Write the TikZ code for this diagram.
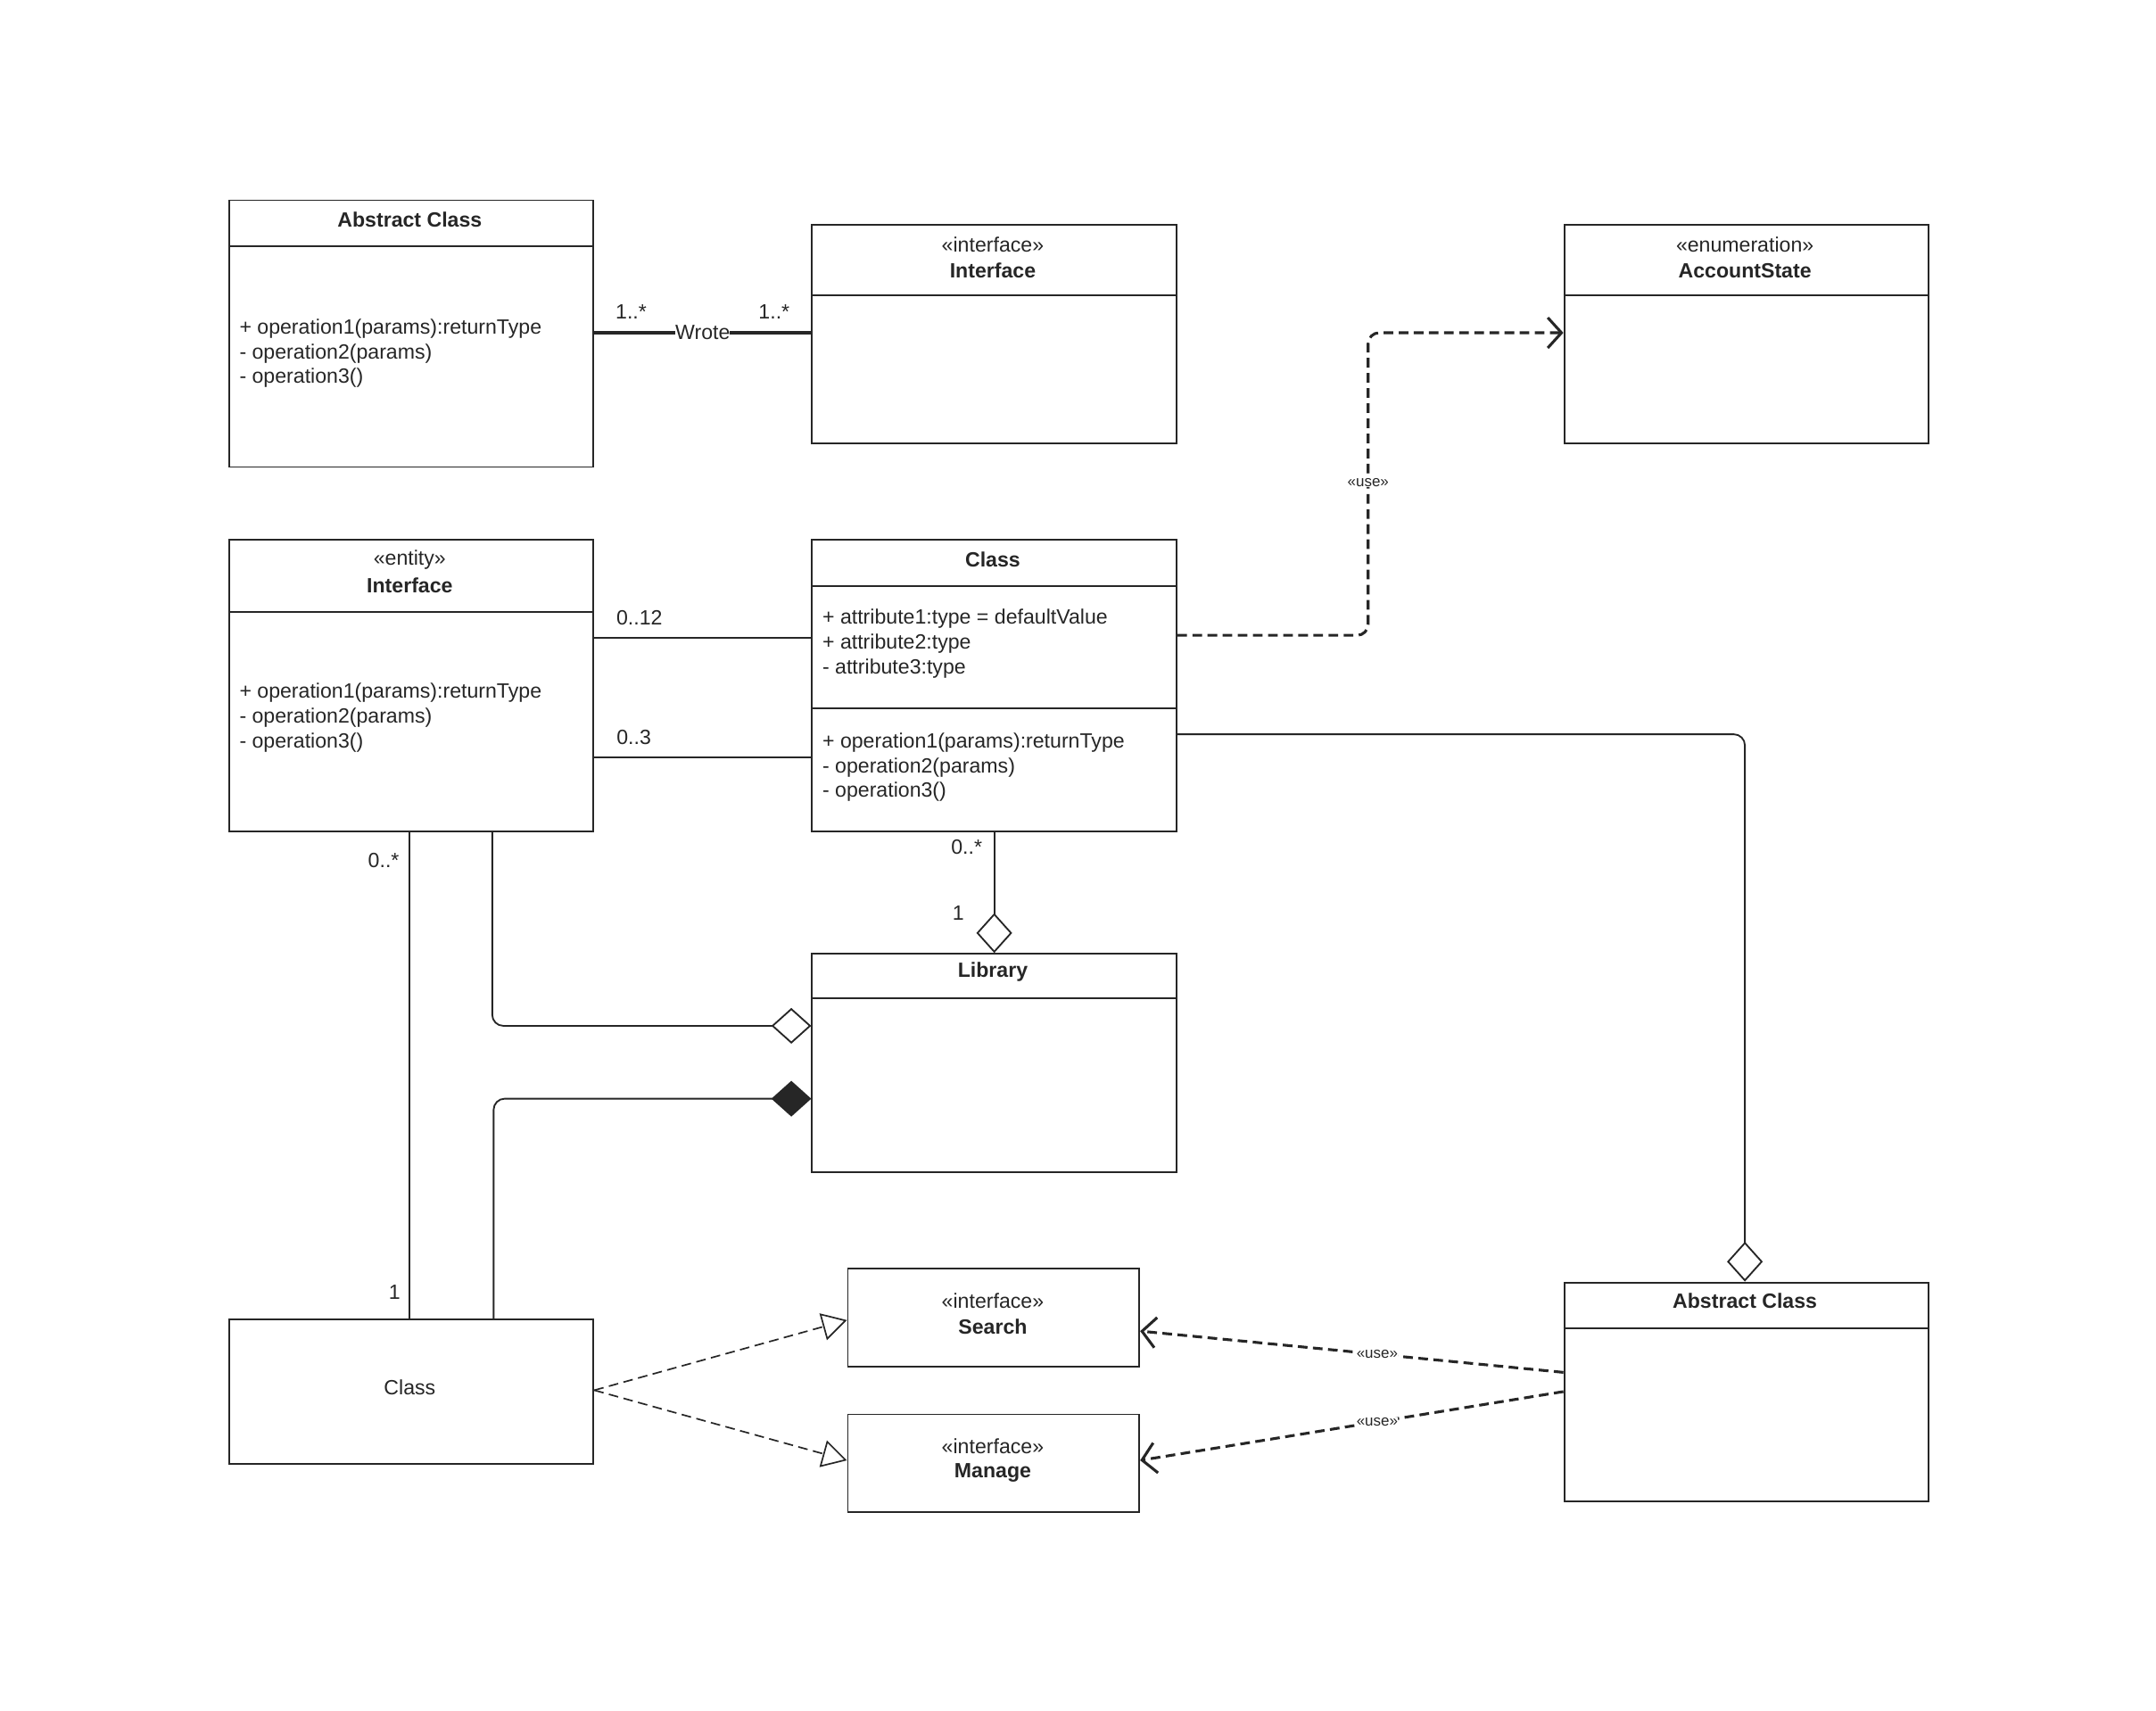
\documentclass[tikz,border=0pt]{standalone}
\usepackage{fontspec}
\setmainfont{Liberation Sans}
\usetikzlibrary{arrows.meta}

\tikzset{
  umlbox/.style={draw=black!85, line width=1.2pt, anchor=north west, inner sep=0pt},
  txt/.style={font=\fontsize{15}{18}\selectfont, text=black!85, inner sep=1pt},
  ttl/.style={txt, font=\fontsize{15}{18}\selectfont\bfseries},
  ops/.style={txt, anchor=west, align=left},
  small/.style={font=\fontsize{11}{13}\selectfont, text=black!85, inner sep=0pt, fill=white},
  conn/.style={draw=black!85, line width=1.2pt},
  usedash/.style={draw=black!85, line width=2pt, dash pattern=on 7pt off 4pt, -{Straight Barb[length=10pt, width=22pt, line width=2pt]}},
  realize/.style={draw=black!85, line width=1.1pt, dash pattern=on 7pt off 4pt, -{Triangle[open, length=18pt, width=20pt, fill=white]}},
  aggr/.style={-{Diamond[open, length=29pt, width=26pt, fill=white]}},
  comp/.style={-{Diamond[length=29pt, width=26pt]}}
}

\begin{document}
\begin{tikzpicture}[x=1pt,y=-1pt]
\fill[white] (0,0) rectangle (1568,1244);
\useasboundingbox (0,0) rectangle (1568,1244);
% Boxes
\node[umlbox, minimum width=265pt, minimum height=194pt] (abs) at (166,145) {};
\draw[conn] (166,179) -- (431,179);
\node[ttl] at (298,160) {Abstract Class};
\node[ops] at (173,257) {+ operation1(params):returnType\\- operation2(params)\\- operation3()};

\node[umlbox, minimum width=265pt, minimum height=159pt] (intf) at (590,163) {};
\draw[conn] (590,215) -- (855,215);
\node[txt] at (722,178) {«interface»};
\node[ttl] at (722,197) {Interface};

\node[umlbox, minimum width=265pt, minimum height=159pt] (state) at (1137,163) {};
\draw[conn] (1137,215) -- (1402,215);
\node[txt] at (1269,178) {«enumeration»};
\node[ttl] at (1269,197) {AccountState};

\node[umlbox, minimum width=265pt, minimum height=212pt] (ent) at (166,392) {};
\draw[conn] (166,445) -- (431,445);
\node[txt] at (298,407) {«entity»};
\node[ttl] at (298,426) {Interface};
\node[ops] at (173,522) {+ operation1(params):returnType\\- operation2(params)\\- operation3()};

\node[umlbox, minimum width=265pt, minimum height=212pt] (cls) at (590,392) {};
\draw[conn] (590,426) -- (855,426);
\draw[conn] (590,515) -- (855,515);
\node[ttl] at (722,407) {Class};
\node[ops] at (597,468) {+ attribute1:type = defaultValue\\+ attribute2:type\\- attribute3:type};
\node[ops] at (597,558) {+ operation1(params):returnType\\- operation2(params)\\- operation3()};

\node[umlbox, minimum width=265pt, minimum height=159pt] (lib) at (590,693) {};
\draw[conn] (590,726) -- (855,726);
\node[ttl] at (722,707) {Library};

\node[umlbox, minimum width=265pt, minimum height=105pt] (cls2) at (166,959) {};
\node[txt] at (298,1009) {Class};

\node[umlbox, minimum width=212pt, minimum height=71pt] (search) at (616,922) {};
\node[txt] at (722,946) {«interface»};
\node[ttl] at (722,965) {Search};

\node[umlbox, minimum width=212pt, minimum height=71pt] (manage) at (616,1028) {};
\node[txt] at (722,1052) {«interface»};
\node[ttl] at (722,1071) {Manage};

\node[umlbox, minimum width=265pt, minimum height=159pt] (abs2) at (1137,932) {};
\draw[conn] (1137,966) -- (1402,966);
\node[ttl] at (1269,946) {Abstract Class};

% Connectors
\draw[conn, line width=2pt] (abs.east |- 0,242) -- (intf.west |- 0,242)
  node[pos=0.5, txt, fill=white, inner sep=0pt] {Wrote};
\node[txt] at (459,227) {1..*};
\node[txt] at (563,227) {1..*};

\draw[usedash, rounded corners=8pt] (cls.east |- 0,462) -- (995,462) -- (995,242) -- (state.west |- 0,242);
\node[small] at (995,351) {«use»};

\draw[conn] (ent.east |- 0,464) -- (cls.west |- 0,464);
\node[txt] at (465,449) {0..12};
\draw[conn] (ent.east |- 0,551) -- (cls.west |- 0,551);
\node[txt] at (461,536) {0..3};

\draw[conn, aggr, rounded corners=8pt] (cls.east |- 0,534) -- (1269,534) -- (abs2.north -| 1269,0);

\draw[conn, aggr] (cls.south) -- (lib.north);
\node[txt] at (703,616) {0..*};
\node[txt] at (697,664) {1};

\draw[conn, aggr, rounded corners=8pt] (ent.south -| 358,0) -- (358,746) -- (lib.west |- 0,746);
\draw[conn, comp, rounded corners=8pt] (cls2.north -| 359,0) -- (359,799) -- (lib.west |- 0,799);

\draw[conn] (ent.south -| 298,0) -- (cls2.north -| 298,0);
\node[txt] at (279,626) {0..*};
\node[txt] at (287,940) {1};

\draw[realize] (cls2.east |- 0,1011) -- (search.west |- 0,960);
\draw[realize] (cls2.east |- 0,1011) -- (manage.west |- 0,1062);

\draw[usedash] (abs2.west |- 0,998) -- (search.east |- 0,968) node[pos=0.44, small] {«use»};
\draw[usedash] (abs2.west |- 0,1012) -- (manage.east |- 0,1062) node[pos=0.44, small] {«use»};
\end{tikzpicture}
\end{document}
